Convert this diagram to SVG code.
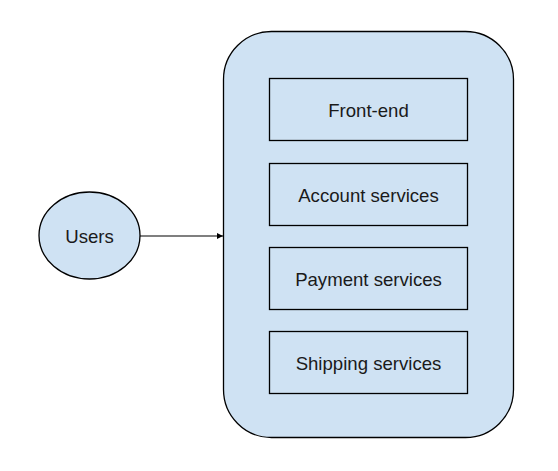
<svg xmlns="http://www.w3.org/2000/svg" width="558" height="471" viewBox="0 0 558 471">
<style>
.shape{fill:#cfe2f3;stroke:#000;stroke-width:1.3}
.lbl{font-family:"Liberation Sans",Arial,sans-serif;font-size:18.6px;fill:#1a1a1a;text-anchor:middle;dominant-baseline:central}
</style>
<defs>
<marker id="arr" markerWidth="8" markerHeight="8" refX="6" refY="3" orient="auto" markerUnits="userSpaceOnUse">
<path d="M0,0 L6,3 L0,6 Z" fill="#000"/>
</marker>
</defs>
<rect width="558" height="471" fill="#fff"/>
<g id="container"><rect class="shape" x="223.5" y="31.5" width="290" height="406" rx="48" ry="48"/></g>
<g id="users"><ellipse class="shape" cx="89.5" cy="235.5" rx="50.5" ry="43.5"/><text class="lbl" x="89.5" y="236">Users</text></g>
<g id="frontend"><rect class="shape" x="269.5" y="78.5" width="198" height="62"/><text class="lbl" x="368.5" y="110">Front-end</text></g>
<g id="account"><rect class="shape" x="269.5" y="163.5" width="198" height="62"/><text class="lbl" x="368.5" y="195">Account services</text></g>
<g id="payment"><rect class="shape" x="269.5" y="247.5" width="198" height="62"/><text class="lbl" x="368.5" y="279">Payment services</text></g>
<g id="shipping"><rect class="shape" x="269.5" y="331.5" width="198" height="62"/><text class="lbl" x="368.5" y="363">Shipping services</text></g>
<g id="connectors"><line x1="140" y1="236" x2="223" y2="236" stroke="#000" stroke-width="1.2" marker-end="url(#arr)"/></g>
</svg>
